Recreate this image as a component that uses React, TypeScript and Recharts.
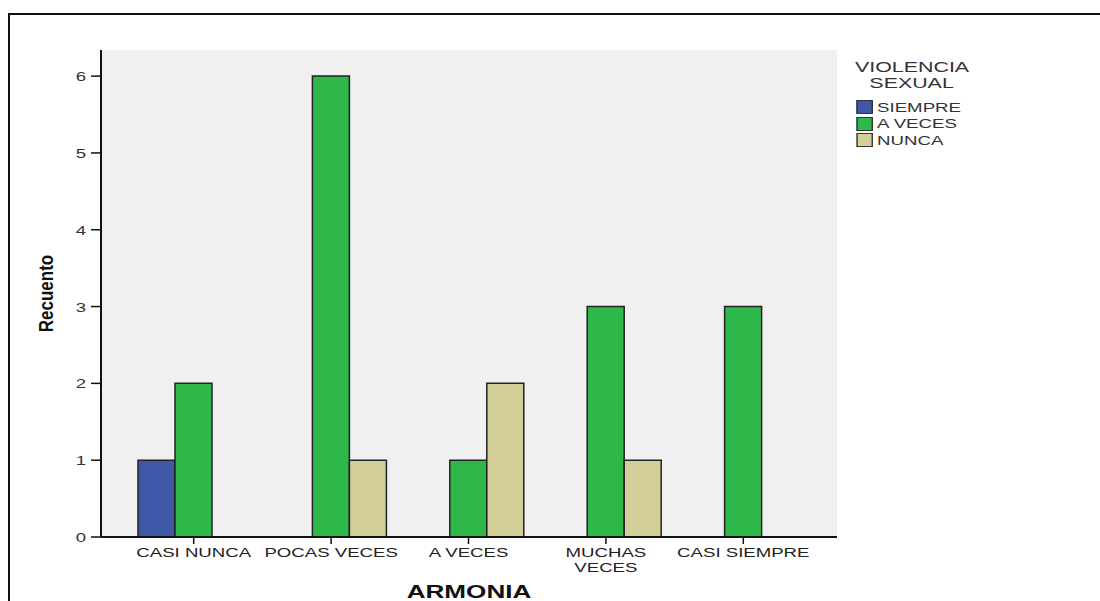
import React from 'react'
import { BarChart, Bar, XAxis, YAxis, CartesianGrid } from 'recharts'

const categories = ['CASI NUNCA', 'POCAS VECES', 'A VECES', 'MUCHAS VECES', 'CASI SIEMPRE']
const tickLines = [['CASI NUNCA'], ['POCAS VECES'], ['A VECES'], ['MUCHAS', 'VECES'], ['CASI SIEMPRE']]
const siempre = [1, null, null, null, null]
const aVeces = [2, 6, 1, 3, 3]
const nunca = [null, 1, 2, 1, null]
const yTicks = [0, 1, 2, 3, 4, 5, 6]

const seriesNames = ['SIEMPRE', 'A VECES', 'NUNCA']
const seriesColors = ['#3e58a8', '#2fb84a', '#d4cf98']

const data = categories.map((c, i) => ({
  name: c,
  siempre: siempre[i],
  aVeces: aVeces[i],
  nunca: nunca[i],
}))

const font = '"Liberation Sans", Arial, sans-serif'
// the source image is stretched sideways, so text is too
const stretch = 1.38

function XTick(props: any) {
  const { x, y, index } = props
  const lines = tickLines[index] || []
  return (
    <g transform={`translate(${x},${y}) scale(${stretch},1)`}>
      {lines.map((l, i) => (
        <text key={i} x={0} y={11 + i * 15} textAnchor="middle" fontSize={13.5} fill="#222" fontFamily={font}>
          {l}
        </text>
      ))}
    </g>
  )
}

function YTick(props: any) {
  const { x, y, payload } = props
  return (
    <g transform={`translate(${x - 3},${y}) scale(${stretch},1)`}>
      <text x={0} y={5} textAnchor="end" fontSize={13.5} fill="#333" fontFamily={font}>
        {payload.value}
      </text>
    </g>
  )
}

function XTitle(props: any) {
  const { viewBox } = props
  const cx = viewBox.x + viewBox.width / 2
  return (
    <text
      transform={`translate(${cx},${viewBox.y + 61}) scale(1.45,1)`}
      textAnchor="middle"
      fontSize={18}
      fontWeight="bold"
      fill="#111"
      fontFamily={font}
    >
      ARMONIA
    </text>
  )
}

function YTitle(props: any) {
  const { viewBox } = props
  const cy = viewBox.y + viewBox.height / 2
  return (
    <text
      transform={`translate(${viewBox.x - 8},${cy}) scale(1.2,1) rotate(-90)`}
      textAnchor="middle"
      fontSize={17}
      fontWeight="bold"
      fill="#111"
      fontFamily={font}
    >
      Recuento
    </text>
  )
}

function LegendBox() {
  return (
    <div
      style={{
        position: 'absolute',
        left: 845,
        top: 44,
        fontFamily: font,
        color: '#333',
        width: 82,
        transform: `scaleX(${stretch})`,
        transformOrigin: 'left top',
      }}
    >
      <div style={{ textAlign: 'center', fontSize: 15.5, lineHeight: '16px' }}>
        VIOLENCIA
        <br />
        SEXUAL
      </div>
      <div style={{ marginTop: 8, marginLeft: 1 }}>
        {seriesNames.map((n, i) => (
          <div key={n} style={{ display: 'flex', alignItems: 'center', height: 16.5, fontSize: 13.5 }}>
            <span
              style={{
                display: 'inline-block',
                width: 10,
                height: 12,
                background: seriesColors[i],
                border: '1px solid #333',
                marginRight: 3,
              }}
            />
            {n}
          </div>
        ))}
      </div>
    </div>
  )
}

export default function App() {
  return (
    <div
      style={{
        position: 'fixed',
        left: 8,
        top: 13,
        borderTop: '2px solid #111',
        borderLeft: '2px solid #111',
        width: 1100,
        height: 600,
        background: '#fff',
      }}
    >
      <BarChart
        width={1090}
        height={586}
        data={data}
        margin={{ top: 35, right: 263, bottom: 24, left: 51 }}
        barCategoryGap={13}
        barGap={0}
      >
        <CartesianGrid horizontal={false} vertical={false} fill="#f0f0f0" />
        <XAxis
          dataKey="name"
          height={40}
          padding={{ left: 24, right: 25 }}
          axisLine={{ stroke: '#111', strokeWidth: 2 }}
          tickLine={{ stroke: '#111', strokeWidth: 1.5 }}
          tickSize={7}
          tick={<XTick />}
          interval={0}
          label={<XTitle />}
        />
        <XAxis
          xAxisId="top"
          dataKey="name"
          orientation="top"
          height={0}
          tick={false}
          tickLine={false}
          axisLine={{ stroke: '#888', strokeWidth: 2 }}
        />
        <YAxis
          width={40}
          domain={[0, 6.34]}
          ticks={yTicks}
          allowDataOverflow
          axisLine={{ stroke: '#111', strokeWidth: 2 }}
          tickLine={{ stroke: '#111', strokeWidth: 1.5 }}
          tickSize={10}
          tick={<YTick />}
          label={<YTitle />}
        />
        <YAxis
          yAxisId="right"
          orientation="right"
          width={0}
          domain={[0, 6.34]}
          tick={false}
          tickLine={false}
          axisLine={{ stroke: '#888', strokeWidth: 2 }}
        />
        <Bar dataKey="siempre" name="SIEMPRE" fill={seriesColors[0]} stroke="#222" strokeWidth={1.5} isAnimationActive={false} />
        <Bar dataKey="aVeces" name="A VECES" fill={seriesColors[1]} stroke="#222" strokeWidth={1.5} isAnimationActive={false} />
        <Bar dataKey="nunca" name="NUNCA" fill={seriesColors[2]} stroke="#222" strokeWidth={1.5} isAnimationActive={false} />
      </BarChart>
      <LegendBox />
    </div>
  )
}
